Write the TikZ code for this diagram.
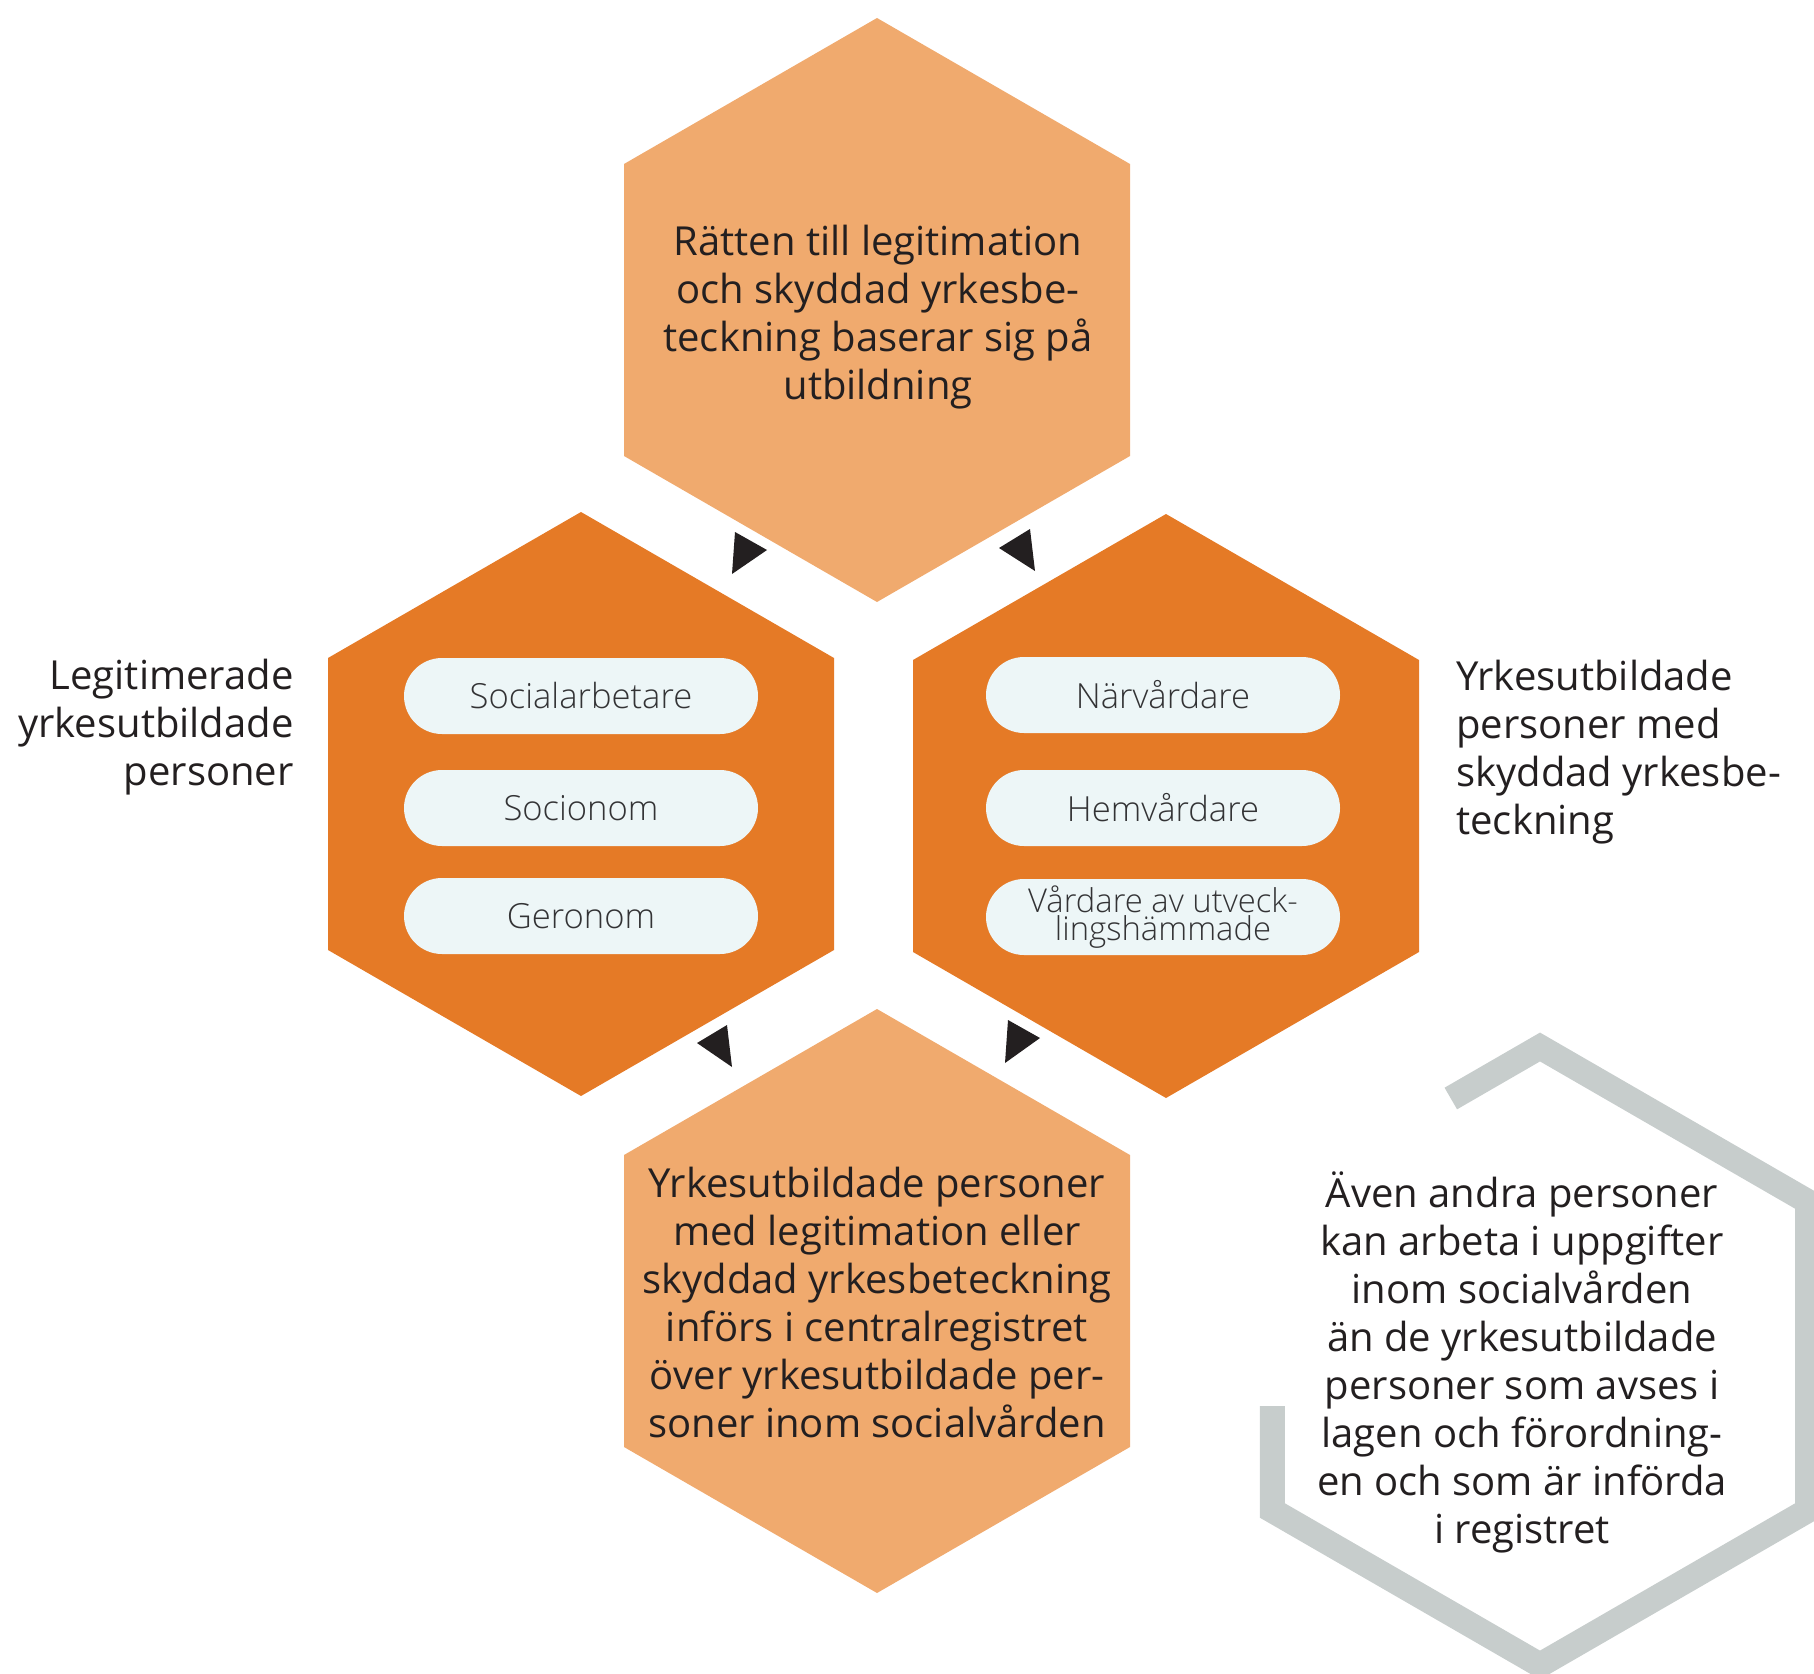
\documentclass[tikz,border=0pt]{standalone}
\usepackage{fontspec}
\setmainfont{Open Sans}
\newfontfamily\pillfont{Open Sans Light}
\usetikzlibrary{shapes.misc}
\definecolor{lightor}{HTML}{F0AA6E}
\definecolor{darkor}{HTML}{E57A26}
\definecolor{pillfill}{HTML}{EDF6F7}
\definecolor{greyline}{HTML}{C7CDCC}
\definecolor{ink}{HTML}{231F20}
\definecolor{pillink}{HTML}{333335}
\begin{document}
\begin{tikzpicture}[x=0.5pt,y=-0.5pt,
  maintext/.style={text=ink,font=\fontsize{20}{24}\selectfont,inner sep=0pt},
  pill/.style={rounded rectangle,fill=pillfill,minimum width=177pt,minimum height=38pt,inner sep=0pt,text=pillink,font=\pillfont\fontsize{17.3}{19}\selectfont},
  marker/.style={fill=ink}]
\useasboundingbox (0,0) rectangle (1814,1674);
\coordinate (ctop) at (877,310);
\coordinate (cleft) at (581,804);
\coordinate (cright) at (1166,806);
\coordinate (cbot) at (877,1301);
\coordinate (cgrey) at (1540,1356);
% hexagons
\foreach \c/\col in {ctop/lightor,cleft/darkor,cright/darkor,cbot/lightor}{
  \fill[\col] (\c) ++(0,-292) -- ++(253,146) -- ++(0,292) -- ++(-253,146) -- ++(-253,-146) -- ++(0,-292) -- cycle;
}
% grey open hexagon
\draw[greyline,line width=12.5pt,line cap=butt,line join=miter,shift={(cgrey)}]
  (-89.2,-257.5) -- (0,-309) -- (267.6,-154.5) -- (267.6,154.5) -- (0,309) -- (-267.6,154.5) -- (-267.6,50);
% markers
\fill[marker] (735,532) -- (732,574) -- (767,550) -- cycle;
\fill[marker] (1030,529) -- (1035,571) -- (999,548) -- cycle;
\fill[marker] (727,1025) -- (732,1067) -- (697,1043) -- cycle;
\fill[marker] (1008,1020) -- (1005,1063) -- (1040,1038) -- cycle;
% texts
\node[maintext,align=center] (ttop) at (878,317) {Rätten till legitimation\\och skyddad yrkesbe-\\teckning baserar sig på\\utbildning};
\node[maintext,align=center] (tbot) at (877,1302) {Yrkesutbildade personer\\med legitimation eller\\skyddad yrkesbeteckning\\införs i centralregistret\\över yrkesutbildade per-\\soner inom socialvården};
\node[maintext,align=right,anchor=east] (tleft) at (294,727) {Legitimerade\\yrkesutbildade\\personer};
\node[maintext,align=left,anchor=west] (tright) at (1456,752) {Yrkesutbildade\\personer med\\skyddad yrkesbe-\\teckning};
\node[maintext,align=center] (tgrey) at (1522,1362) {Även andra personer\\kan arbeta i uppgifter\\inom socialvården\\än de yrkesutbildade\\personer som avses i\\lagen och förordning-\\en och som är införda\\i registret};
% pills
\node[pill] (p1) at (581,696) {Socialarbetare};
\node[pill] (p2) at (581,808) {Socionom};
\node[pill] (p3) at (581,916) {Geronom};
\node[pill] (p4) at (1163,695) {Närvårdare};
\node[pill] (p5) at (1163,808) {Hemvårdare};
\node[pill,align=center,font=\pillfont\fontsize{16.4}{14.2}\selectfont] (p6) at (1163,917) {Vårdare av utveck-\\lingshämmade};
\end{tikzpicture}
\end{document}
